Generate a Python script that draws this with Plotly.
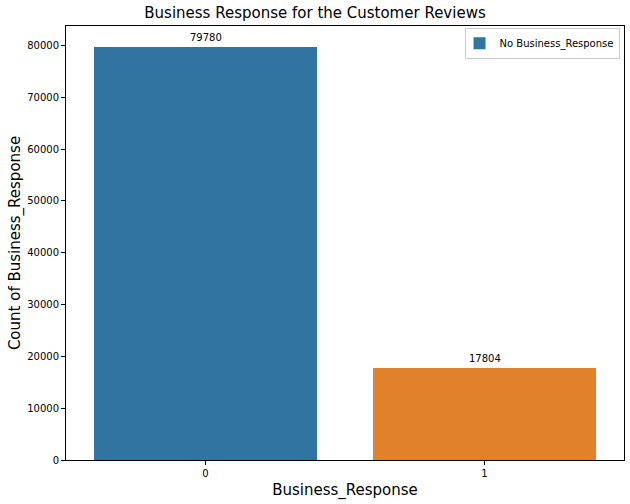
import plotly.graph_objects as go

categories = ["0", "1"]
counts = [79780, 17804]
colors = ["#3274a1", "#e1812c"]
legend_name = "No Business_Response"
title = "Business Response for the Customer Reviews"
x_title = "Business_Response"
y_title = "Count of Business_Response"
y_ticks = [0, 10000, 20000, 30000, 40000, 50000, 60000, 70000, 80000]

xpos = [0, 1]
fig = go.Figure()
for i in range(len(categories)):
    fig.add_trace(go.Bar(
        x=[xpos[i]], y=[counts[i]], width=0.8,
        marker=dict(color=colors[i], line=dict(width=0)),
        name=legend_name, showlegend=(i == 0),
    ))
    fig.add_annotation(x=xpos[i], y=counts[i], text=str(counts[i]), showarrow=False,
                       yanchor="bottom", yshift=2, font=dict(size=10, color="#000000"))

font = "DejaVu Sans, sans-serif"
axis_common = dict(showline=True, linecolor="#000000", linewidth=1, mirror=True,
                   ticks="outside", ticklen=4, tickcolor="#000000", showgrid=False,
                   zeroline=False, tickfont=dict(size=10, color="#000000"))
fig.update_layout(
    width=630, height=504,
    margin=dict(l=66, r=6, t=26, b=44),
    paper_bgcolor="white", plot_bgcolor="white",
    font=dict(family=font, color="#000000"),
    title=dict(text=title, x=0.5, xanchor="center", y=0.975, yanchor="middle",
               font=dict(size=15, color="#000000")),
    xaxis=dict(range=[-0.5, 1.5], tickvals=xpos, ticktext=categories,
               title=dict(text=x_title, font=dict(size=15), standoff=6), **axis_common),
    yaxis=dict(range=[0, max(counts) * 1.05], tickvals=y_ticks,
               ticktext=[str(v) for v in y_ticks],
               title=dict(text=y_title, font=dict(size=15), standoff=2), **axis_common),
    legend=dict(x=0.992, y=0.996, xanchor="right", yanchor="top",
                bordercolor="#cccccc", borderwidth=1, bgcolor="rgba(255,255,255,0.8)",
                font=dict(size=10), itemwidth=30, tracegroupgap=0,
                indentation=-6),
    bargap=0,
)
fig.write_html("out.html")
